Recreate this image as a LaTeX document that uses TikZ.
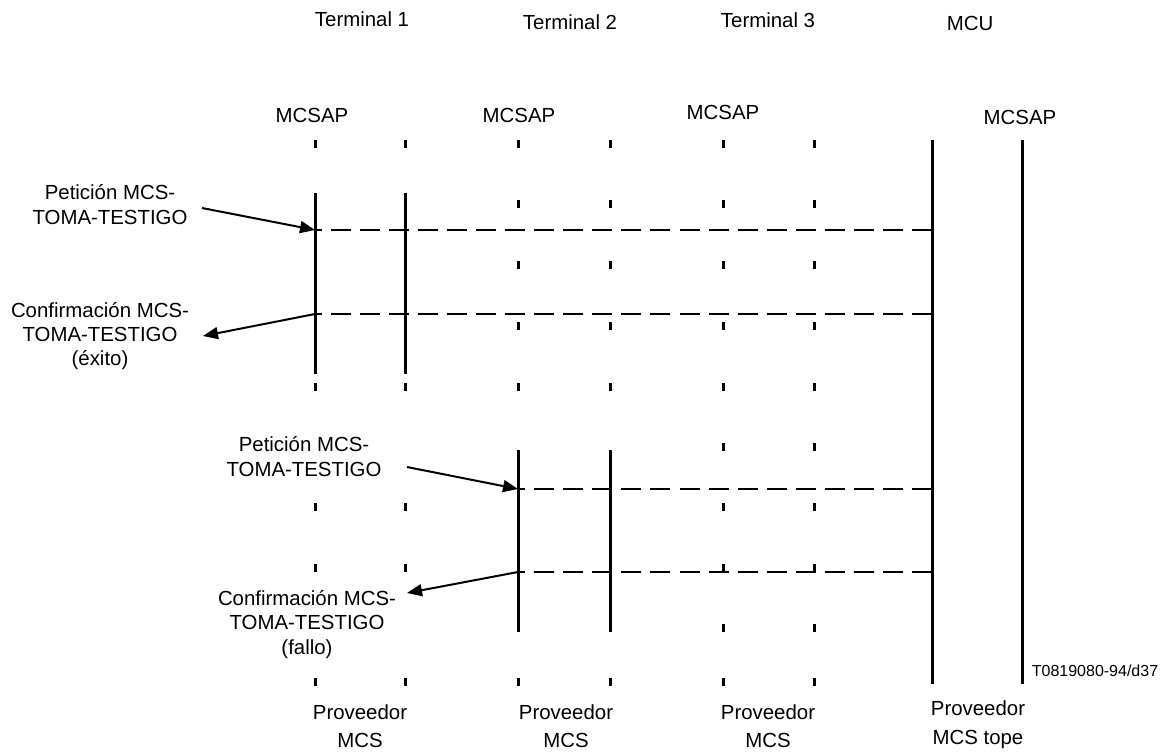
\documentclass[tikz,border=0pt]{standalone}
\usepackage{fontspec}
\setmainfont{Liberation Sans}
\usetikzlibrary{arrows.meta}

\begin{document}
\begin{tikzpicture}[x=0.5pt,y=-0.5pt,>={Triangle[length=7.5pt,width=6pt]},
  txt/.style={font=\fontsize{10.2}{12.2}\selectfont,align=center,inner sep=0pt},
  prov/.style={txt,font=\fontsize{10.2}{14.3}\selectfont},
  life/.style={line width=1.5pt},
  tk/.style={line width=1.5pt},
  msg/.style={line width=1.4pt,dash pattern=on 10pt off 4.53pt},
  prim/.style={->,line width=1pt}]
  \useasboundingbox (0,0) rectangle (1166,755);
  % cabeceras
  \node[txt] (term1) at (362,19) {Terminal 1};
  \node[txt] (term2) at (570,22) {Terminal 2};
  \node[txt] (term3) at (768,20) {Terminal 3};
  \node[txt] (mcu) at (970,23) {MCU};
  \node[txt] (sap1) at (312,115) {MCSAP};
  \node[txt] (sap2) at (519,115) {MCSAP};
  \node[txt] (sap3) at (723,112) {MCSAP};
  \node[txt] (sap4) at (1020,117) {MCSAP};
  % trazos de las lineas inactivas
  \foreach \y in {143.5,387,507,568,682}
    \foreach \x in {315,405} \draw[tk] (\x,\y-4) -- (\x,\y+4);
  \foreach \y in {143.5,204,265,326,387,682}
    \foreach \x in {518,610} \draw[tk] (\x,\y-4) -- (\x,\y+4);
  \foreach \y in {143.5,204,265,326,387,447,507,568,628,682}
    \foreach \x in {723,814} \draw[tk] (\x,\y-4) -- (\x,\y+4);
  % lineas activas
  \draw[life] (315,193) -- (315,374);
  \draw[life] (405,193) -- (405,374);
  \draw[life] (518,450) -- (518,632);
  \draw[life] (610,450) -- (610,632);
  \draw[life] (932,140) -- (932,684);
  \draw[life] (1022,140) -- (1022,684);
  % puntos de los mensajes
  \coordinate (a1) at (315,230);   \coordinate (b1) at (932,230);
  \coordinate (a2) at (315,314);   \coordinate (b2) at (932,314);
  \coordinate (a3) at (518,489);   \coordinate (b3) at (932,489);
  \coordinate (a4) at (518,572);   \coordinate (b4) at (932,572);
  \draw[msg] (b1) -- (a1);
  \draw[msg] (b2) -- (a2);
  \draw[msg] (b3) -- (a3);
  \draw[msg] (b4) -- (a4);
  % primitivas
  \node[txt] (pet1) at (110,204.5) {Petición MCS-\\TOMA-TESTIGO};
  \node[txt] (conf1) at (100,336) {Confirmación MCS-\\TOMA-TESTIGO\\(éxito)};
  \node[txt] (pet2) at (304,456.5) {Petición MCS-\\TOMA-TESTIGO};
  \node[txt] (conf2) at (307,624.5) {Confirmación MCS-\\TOMA-TESTIGO\\(fallo)};
  \coordinate (p1) at (202,208);
  \coordinate (c1) at (203,336);
  \coordinate (p2) at (407,467);
  \coordinate (c2) at (407,593);
  \draw[prim] (p1) -- (a1);
  \draw[prim] (a2) -- (c1);
  \draw[prim] (p2) -- (a3);
  \draw[prim] (a4) -- (c2);
  % proveedores
  \node[prov] (prov1) at (360,726) {Proveedor\\MCS};
  \node[prov] (prov2) at (566,726) {Proveedor\\MCS};
  \node[prov] (prov3) at (768,726) {Proveedor\\MCS};
  \node[prov] (prov4) at (978,725) {Proveedor\\MCS tope};
  \node[txt,font=\fontsize{8}{9.6}\selectfont] (ref) at (1095,671) {T0819080-94/d37};
\end{tikzpicture}
\end{document}
